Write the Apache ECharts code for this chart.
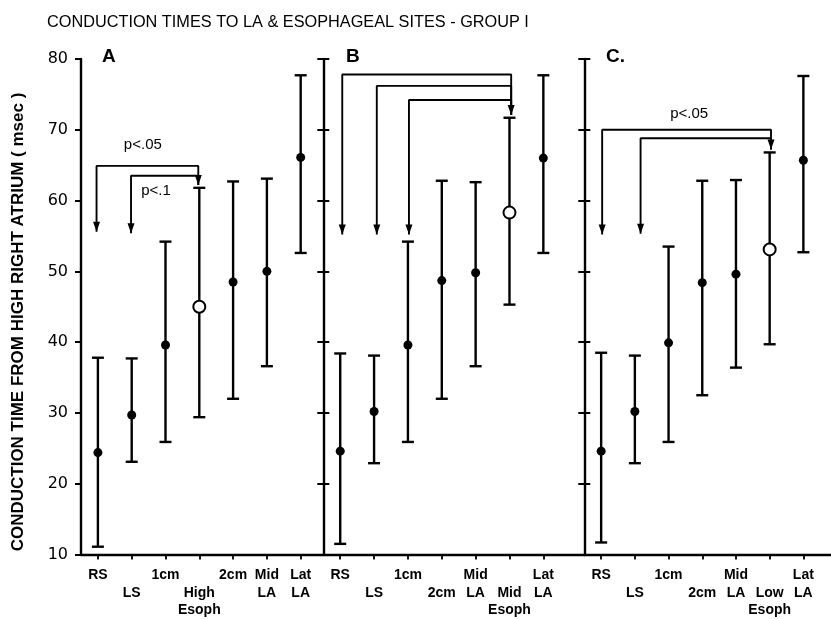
<!DOCTYPE html>
<html><head><meta charset="utf-8">
<script src="https://cdn.jsdelivr.net/npm/echarts@6/dist/echarts.min.js"></script>
<style>html,body{margin:0;padding:0;background:#fff}#c{width:831px;height:619px}</style>
</head><body><div id="c"></div>
<script>
// ---------- data ----------
const catsA = ['RS','LS','1cm','High Esoph','2cm','Mid LA','Lat LA'];
const catsB = ['RS','LS','1cm','2cm','Mid LA','Mid Esoph','Lat LA'];
const catsC = ['RS','LS','1cm','2cm','Mid LA','Low Esoph','Lat LA'];
const tickLabelsA = ['RS','\nLS','1cm','\nHigh\nEsoph','2cm','Mid\nLA','Lat\nLA'];
const tickLabelsB = ['RS','\nLS','1cm','\n2cm','Mid\nLA','\nMid\nEsoph','Lat\nLA'];
const tickLabelsC = ['RS','\nLS','1cm','\n2cm','Mid\nLA','\nLow\nEsoph','Lat\nLA'];
const yTicks = [10,20,30,40,50,60,70,80];

const meanA = [24.4,29.7,39.6,45.0,48.5,50.0,66.1];
const lowA  = [11.1,23.1,25.9,29.4,32.0,36.6,52.6];
const highA = [37.8,37.7,54.2,61.8,62.7,63.1,77.7];
const meanB = [24.6,30.2,39.6,48.7,49.8,58.3,66.0];
const lowB  = [11.5,22.9,25.9,32.0,36.6,45.3,52.6];
const highB = [38.4,38.1,54.2,62.8,62.6,71.7,77.7];
const meanC = [24.6,30.2,39.9,48.4,49.6,53.1,65.7];
const lowC  = [11.7,22.9,25.9,32.5,36.4,39.7,52.7];
const highC = [38.5,38.1,53.5,62.8,62.9,66.8,77.6];
const openA = 3, openB = 5, openC = 5;

// brackets: [fromX, toX, levelY, leftArrowTipY]
const bracketsA = [[-0.04,2.97,64.9,55.6],[0.98,2.97,63.5,55.4]];
const bracketsB = [[0.06,5.05,77.8,55.2],[1.08,5.05,76.2,55.2],[2.03,5.05,74.2,55.2]];
const bracketsC = [[0.03,5.04,70.0,55.2],[1.17,5.04,68.8,55.3]];
const rightTipA = 62.2, rightTipB = 72.1, rightTipC = 67.2;
const notesA = [[1.33,67.9,'p<.05'],[1.72,61.4,'p<.1']];
const notesB = [[2.71,80.1,'p<.05']];
const notesC = [[2.61,72.2,'p<.05']];

// ---------- layout ----------
const panels = [
  {cats:catsA, labels:tickLabelsA, mean:meanA, low:lowA, high:highA, open:openA, br:bracketsA, tip:rightTipA, notes:notesA, left:81, width:242, xmax:6.66, yLabels:true},
  {cats:catsB, labels:tickLabelsB, mean:meanB, low:lowB, high:highB, open:openB, br:bracketsB, tip:rightTipB, notes:notesB, left:323.3, width:261, xmax:7.21, yLabels:false},
  {cats:catsC, labels:tickLabelsC, mean:meanC, low:lowC, high:highC, open:openC, br:bracketsC, tip:rightTipC, notes:notesC, left:584.3, width:246.7, xmax:6.82, yLabels:false}
];
const FONT = '"Liberation Sans", Arial, sans-serif';
const idx = [0,1,2,3,4,5,6];

const grid = panels.map(p => ({left:p.left, top:59, width:p.width, height:496}));
const xAxis = panels.map((p,i) => ({
  type:'value', gridIndex:i, min:-0.5, max:p.xmax,
  splitLine:{show:false},
  axisLine:{show:true, onZero:false, lineStyle:{color:'#000', width:2.4}},
  axisTick:{show:true, customValues:idx, length:5, lineStyle:{color:'#000', width:1.8}},
  axisLabel:{show:true, customValues:idx, formatter:v => p.labels[Math.round(v)],
    fontFamily:FONT, fontSize:14, fontWeight:'bold', color:'#000', lineHeight:17.5, margin:12, verticalAlign:'top', align:'center'}
}));
const yAxis = [];
const yMain = [];
panels.forEach((p,i) => {
  yMain.push(yAxis.length);
  yAxis.push({
    type:'value', gridIndex:i, position:'left', min:10, max:80, interval:10,
    splitLine:{show:false},
    axisLine:{show:true, onZero:false, lineStyle:{color:'#000', width:2.4}},
    axisTick:{show:true, length:6, lineStyle:{color:'#000', width:2}},
    axisLabel:{show:p.yLabels, fontFamily:'"DejaVu Sans", sans-serif', fontSize:16, color:'#000', margin:13,
      formatter:v => yTicks.includes(v) ? String(v) : ''}
  });
  if (!p.yLabels) {
    yAxis.push({
      type:'value', gridIndex:i, position:'left', offset:0, min:10, max:80, interval:10,
      splitLine:{show:false},
      axisLine:{show:false, onZero:false},
      axisTick:{show:true, inside:true, length:6, lineStyle:{color:'#000', width:2}},
      axisLabel:{show:false}
    });
  }
});

const series = [];
const arrowPath = 'path://M0,0L10,0L5,14Z';
panels.forEach((p,i) => {
  const ax = {xAxisIndex:i, yAxisIndex:yMain[i]};
  series.push(Object.assign({
    type:'custom', z:2,
    data:p.cats.map((c,j) => [j, p.low[j], p.high[j]]),
    encode:{x:0, y:[1,2]},
    renderItem:(params, api) => {
      const x = api.value(0);
      const a = api.coord([x, api.value(1)]);
      const b = api.coord([x, api.value(2)]);
      const hw = 6, st = {stroke:'#000', lineWidth:2.4};
      return {type:'group', children:[
        {type:'line', shape:{x1:a[0], y1:a[1], x2:b[0], y2:b[1]}, style:st},
        {type:'line', shape:{x1:a[0]-hw, y1:a[1], x2:a[0]+hw, y2:a[1]}, style:st},
        {type:'line', shape:{x1:b[0]-hw, y1:b[1], x2:b[0]+hw, y2:b[1]}, style:st}
      ]};
    }
  }, ax));
  series.push(Object.assign({
    type:'scatter', z:5, symbol:'circle', symbolSize:9,
    itemStyle:{color:'#000', opacity:1},
    data:p.mean.map((m,j) => [j,m]).filter((d,j) => j !== p.open)
  }, ax));
  series.push(Object.assign({
    type:'scatter', z:5, symbol:'circle', symbolSize:12,
    itemStyle:{color:'#fff', borderColor:'#000', borderWidth:2, opacity:1},
    data:[[p.open, p.mean[p.open]]]
  }, ax));
  p.br.forEach(b => {
    series.push(Object.assign({
      type:'line', z:3, symbol:'none', silent:true,
      lineStyle:{color:'#000', width:1.9},
      data:[[b[0], b[3]], [b[0], b[2]], [b[1], b[2]], [b[1], p.tip]]
    }, ax));
  });
  const tips = p.br.map(b => [b[0], b[3]]);
  tips.push([p.br[0][1], p.tip]);
  series.push(Object.assign({
    type:'scatter', z:4, symbol:arrowPath, symbolSize:[7,10], symbolOffset:[0,'-50%'],
    itemStyle:{color:'#000', opacity:1}, data:tips
  }, ax));
  series.push(Object.assign({
    type:'scatter', z:6, symbolSize:1, itemStyle:{color:'rgba(0,0,0,0)', opacity:1},
    data:p.notes.map(n => ({value:[n[0], n[1]], name:n[2]})),
    label:{show:true, position:'inside', formatter:'{b}', fontFamily:FONT, fontSize:15, color:'#000'}
  }, ax));
});

const letterStyle = {fontFamily:FONT, fontSize:19, fontWeight:'bold', color:'#000'};
const option = {
  backgroundColor:'#fff',
  animation:false,
  title:[
    {text:'CONDUCTION TIMES TO LA & ESOPHAGEAL SITES - GROUP I', left:42, top:10,
      textStyle:{fontFamily:FONT, fontSize:16.3, fontWeight:'normal', color:'#000'}},
    {text:'A', left:97, top:42, textStyle:letterStyle},
    {text:'B', left:341, top:42, textStyle:letterStyle},
    {text:'C.', left:601, top:42, textStyle:letterStyle}
  ],
  graphic:[{type:'text', x:18, y:322, rotation:Math.PI/2,
    style:{text:'CONDUCTION TIME FROM HIGH RIGHT ATRIUM ( msec )', fontFamily:FONT, fontSize:17, fontWeight:'bold',
      fill:'#000', align:'center', verticalAlign:'middle'}}],
  grid, xAxis, yAxis, series
};
const chart = echarts.init(document.getElementById('c'), null, {renderer:'canvas'});
chart.setOption(option);
</script></body></html>
